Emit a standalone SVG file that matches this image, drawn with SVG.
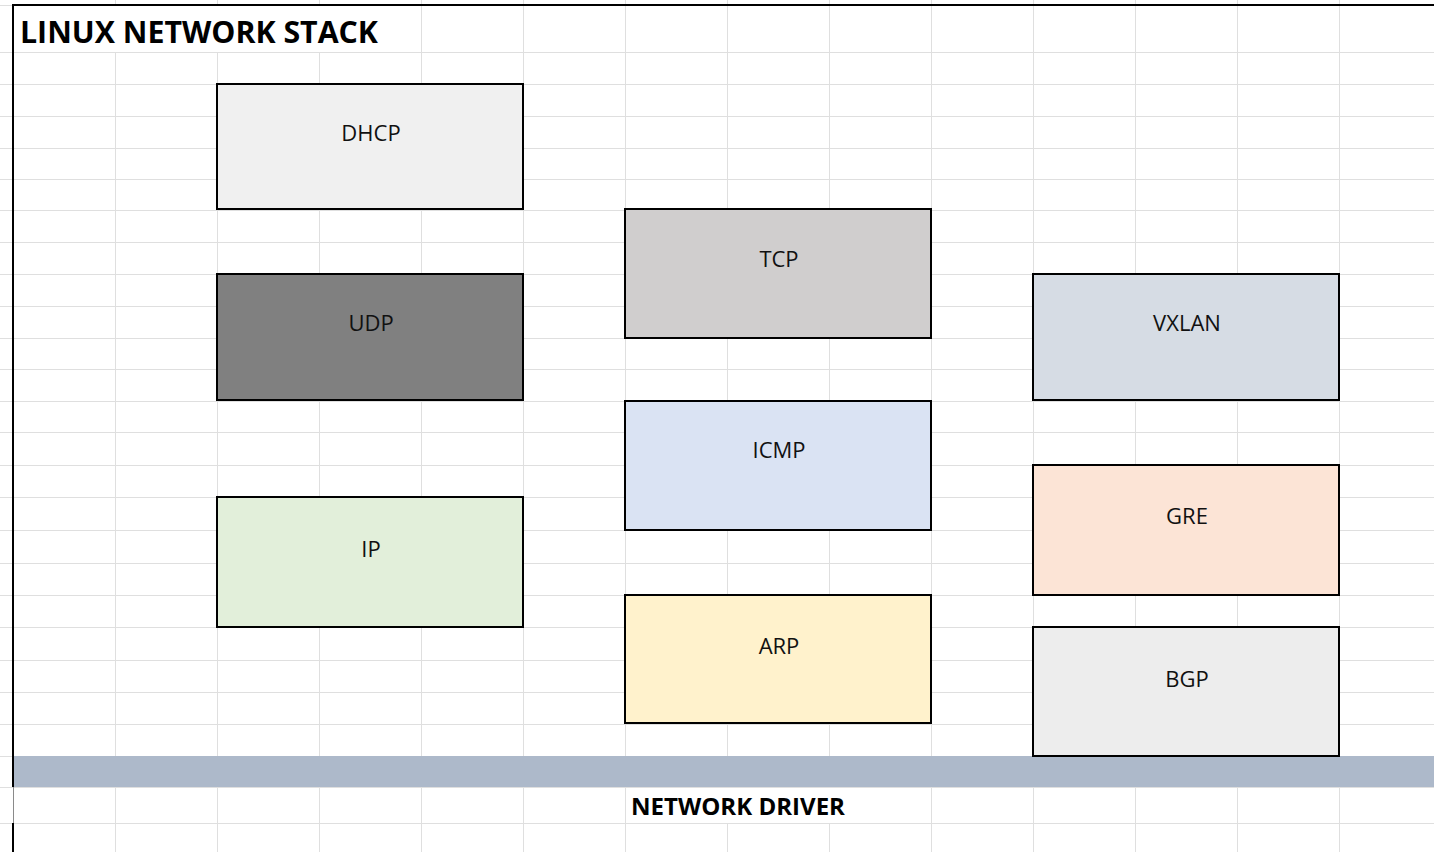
<svg xmlns="http://www.w3.org/2000/svg" width="1434" height="852" viewBox="0 0 1434 852">
  <style>
    .grid { stroke: #dfdfdf; stroke-width: 1; fill: none; }
    .frame { stroke: #000; stroke-width: 2; fill: none; }
    .box { stroke: #000; stroke-width: 2; }
    .lbl { font-family: "Open Sans", "Noto Sans", sans-serif; font-size: 22px; fill: #111; text-anchor: middle; }
    .head { font-family: "Open Sans", "Noto Sans", sans-serif; font-weight: 700; fill: #000; }
  </style>

  <rect x="0" y="0" width="1434" height="852" fill="#ffffff"/>

  <!-- spreadsheet cell grid -->
  <g id="grid" class="grid">
    <!-- horizontal rules -->
    <path d="M0 5.5H13 M0 52.5H1434 M0 84.5H1434 M0 116.5H1434 M0 148.5H1434 M0 179.5H1434 M0 210.5H1434
             M0 242.5H1434 M0 274.5H1434 M0 306.5H1434 M0 338.5H1434 M0 369.5H1434 M0 401.5H1434
             M0 432.5H1434 M0 465.5H1434 M0 497.5H1434 M0 530.5H1434 M0 563.5H1434 M0 595.5H1434
             M0 627.5H1434 M0 660.5H1434 M0 692.5H1434 M0 724.5H1434 M0 756.5H1434 M0 787.5H1434 M0 823.5H1434"/>
    <!-- vertical rules: title text overflows the first cells of row 1 -->
    <path d="M115.5 0V5 M217.5 0V5 M319.5 0V5
             M115.5 52V852 M217.5 52V852 M319.5 52V852 M421.5 0V852 M523.5 0V852 M625.5 0V852
             M727.5 0V787 M727.5 823V852 M829.5 0V787 M829.5 823V852
             M931.5 0V852 M1033.5 0V852 M1135.5 0V852 M1237.5 0V852 M1339.5 0V852"/>
  </g>

  <!-- network driver band -->
  <rect id="driver-band" x="13" y="756" width="1421" height="31" fill="#adb9ca"/>

  <!-- outer frame -->
  <g id="frame">
    <path class="frame" d="M13 852V823 M13 787V5H1434"/>
    <path d="M13.5 787V823" stroke="#8a8a8a" stroke-width="1"/>
  </g>

  <text class="head" x="20" y="43" font-size="30" textLength="358" lengthAdjust="spacingAndGlyphs">LINUX NETWORK STACK</text>

  <g id="dhcp">
    <rect class="box" x="217" y="84" width="306" height="125" fill="#f0f0f0"/>
    <text class="lbl" x="371" y="141">DHCP</text>
  </g>
  <g id="udp">
    <rect class="box" x="217" y="274" width="306" height="126" fill="#808080"/>
    <text class="lbl" x="371" y="331">UDP</text>
  </g>
  <g id="ip">
    <rect class="box" x="217" y="497" width="306" height="130" fill="#e2efda"/>
    <text class="lbl" x="371" y="557">IP</text>
  </g>
  <g id="tcp">
    <rect class="box" x="625" y="209" width="306" height="129" fill="#d0cece"/>
    <text class="lbl" x="779" y="267">TCP</text>
  </g>
  <g id="icmp">
    <rect class="box" x="625" y="401" width="306" height="129" fill="#dae3f3"/>
    <text class="lbl" x="779" y="458">ICMP</text>
  </g>
  <g id="arp">
    <rect class="box" x="625" y="595" width="306" height="128" fill="#fff2cc"/>
    <text class="lbl" x="779" y="654">ARP</text>
  </g>
  <g id="vxlan">
    <rect class="box" x="1033" y="274" width="306" height="126" fill="#d6dce4"/>
    <text class="lbl" x="1187" y="331">VXLAN</text>
  </g>
  <g id="gre">
    <rect class="box" x="1033" y="465" width="306" height="130" fill="#fce4d6"/>
    <text class="lbl" x="1187" y="524">GRE</text>
  </g>
  <g id="bgp">
    <rect class="box" x="1033" y="627" width="306" height="129" fill="#ededed"/>
    <text class="lbl" x="1187" y="687">BGP</text>
  </g>

  <g id="connectors"/>

  <text class="head" x="631" y="815" font-size="23.5" textLength="214" lengthAdjust="spacingAndGlyphs">NETWORK DRIVER</text>
</svg>
